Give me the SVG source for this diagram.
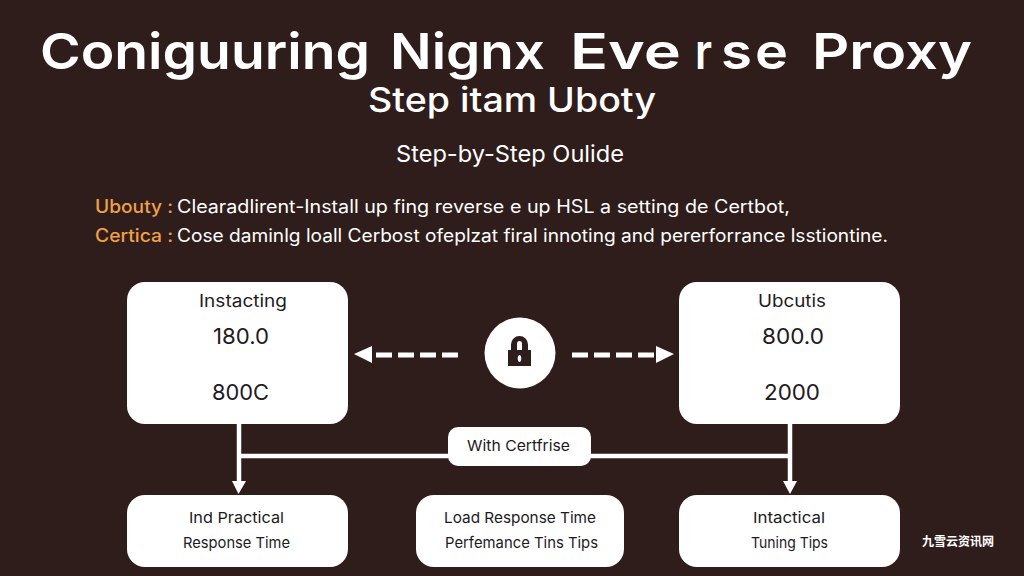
<svg xmlns="http://www.w3.org/2000/svg" width="1024" height="576" viewBox="0 0 1024 576">
<style>
text{font-family:"Inter","Liberation Sans",sans-serif;}
.w{fill:#fff}
.box{fill:#fff}
.l{fill:#221a1e}
.n{font-size:21px}
.h{font-size:17px}
.s{font-size:15px}
.body{font-size:18px;fill:#fff}
.or{font-size:18px;fill:#f0a048;font-weight:500}
.ln{stroke:#fff;stroke-width:4.500;fill:none}
.ds{stroke:#fff;stroke-width:5;fill:none;stroke-dasharray:16 6}
.ah{fill:#fff}
</style>
<rect width="1024" height="576" fill="#2f1d1c"/>
<g id="title">
<text class="w" y="69" font-size="50" font-weight="600"><tspan x="40" textLength="330" lengthAdjust="spacingAndGlyphs">Coniguuring</tspan> <tspan x="390" textLength="155" lengthAdjust="spacingAndGlyphs">Nignx</tspan> <tspan x="570" textLength="111" lengthAdjust="spacingAndGlyphs">Eve</tspan> <tspan x="695" textLength="17" lengthAdjust="spacingAndGlyphs">r</tspan> <tspan x="721" textLength="31" lengthAdjust="spacingAndGlyphs">s</tspan> <tspan x="755" textLength="33" lengthAdjust="spacingAndGlyphs">e</tspan> <tspan x="812" textLength="160" lengthAdjust="spacingAndGlyphs">Proxy</tspan></text>
<text class="w" x="368" y="112" font-size="34" font-weight="500" textLength="288" lengthAdjust="spacingAndGlyphs">Step itam Uboty</text>
<text class="w" x="396" y="162" font-size="23" textLength="228" lengthAdjust="spacingAndGlyphs">Step-by-Step Oulide</text>
</g>
<g id="description">
<text class="or" x="95" y="213" textLength="78" lengthAdjust="spacingAndGlyphs">Ubouty :</text>
<text class="body" x="177" y="213" textLength="613" lengthAdjust="spacingAndGlyphs">Clearadlirent-Install up fing reverse e up HSL a setting de Certbot,</text>
<text class="or" x="95" y="242" textLength="78" lengthAdjust="spacingAndGlyphs">Certica :</text>
<text class="body" x="177" y="242" textLength="711" lengthAdjust="spacingAndGlyphs">Cose daminlg loall Cerbost ofeplzat firal innoting and pererforrance lsstiontine.</text>
</g>
<g id="connectors">
<line class="ds" x1="458" y1="355" x2="372" y2="355"/>
<polygon class="ah" points="354,354 372,346 372,363"/>
<line class="ds" x1="572" y1="355" x2="656" y2="355"/>
<polygon class="ah" points="674,354 656,346 656,363"/>
<line class="ln" x1="239" y1="423" x2="239" y2="482"/>
<polygon class="ah" points="232,481 246,481 238.500,494"/>
<line class="ln" x1="790" y1="423" x2="790" y2="482"/>
<polygon class="ah" points="783,481 797,481 790,494"/>
<line class="ln" x1="239" y1="456" x2="790" y2="456"/>
</g>
<g id="node-instacting">
<rect class="box" x="127" y="282" width="221" height="142" rx="18"/>
<text class="l h" x="199" y="307" textLength="88" lengthAdjust="spacingAndGlyphs">Instacting</text>
<text class="l n" x="213" y="344" textLength="56" lengthAdjust="spacingAndGlyphs">180.0</text>
<text class="l n" x="212" y="400" textLength="57" lengthAdjust="spacingAndGlyphs">800C</text>
</g>
<g id="node-lock">
<circle cx="520" cy="353" r="35.500" fill="#fff"/>
<path d="M511 350v-5.500a8.500 8.500 0 0 1 17 0v5.500h3v16h-23v-16zM517 350h5v-6a2.500 3 0 0 0-5 0zM519.500 355c-1.200 0-1.800 2-1.800 3.500s.6 3.500 1.800 3.500 1.800-2 1.800-3.500-.6-3.500-1.800-3.500z" fill="#2f1d1c" fill-rule="evenodd"/>
</g>
<g id="node-ubcutis">
<rect class="box" x="679" y="282" width="221" height="142" rx="18"/>
<text class="l h" x="758" y="307" textLength="68" lengthAdjust="spacingAndGlyphs">Ubcutis</text>
<text class="l n" x="762" y="344" textLength="62" lengthAdjust="spacingAndGlyphs">800.0</text>
<text class="l n" x="764" y="400" textLength="56" lengthAdjust="spacingAndGlyphs">2000</text>
</g>
<g id="node-with-certfrise">
<rect class="box" x="448" y="427" width="143" height="39" rx="10"/>
<text class="l s" x="467" y="451" textLength="103" lengthAdjust="spacingAndGlyphs">With Certfrise</text>
</g>
<g id="node-practical">
<rect class="box" x="127" y="495" width="221" height="72" rx="18"/>
<text class="l s" x="189" y="523" textLength="95" lengthAdjust="spacingAndGlyphs">Ind Practical</text>
<text class="l s" x="183" y="548" textLength="107" lengthAdjust="spacingAndGlyphs">Response Time</text>
</g>
<g id="node-load">
<rect class="box" x="416" y="495" width="208" height="72" rx="18"/>
<text class="l s" x="444" y="523" textLength="152" lengthAdjust="spacingAndGlyphs">Load Response Time</text>
<text class="l s" x="445" y="548" textLength="153" lengthAdjust="spacingAndGlyphs">Perfemance Tins Tips</text>
</g>
<g id="node-tuning">
<rect class="box" x="679" y="495" width="221" height="72" rx="18"/>
<text class="l s" x="753" y="523" textLength="72" lengthAdjust="spacingAndGlyphs">Intactical</text>
<text class="l s" x="751" y="548" textLength="77" lengthAdjust="spacingAndGlyphs">Tuning Tips</text>
</g>
<text id="watermark" x="922" y="546" font-size="12" font-weight="700" fill="#fff" style="font-family:'Noto Sans CJK SC',sans-serif">九雪云资讯网</text>
</svg>
